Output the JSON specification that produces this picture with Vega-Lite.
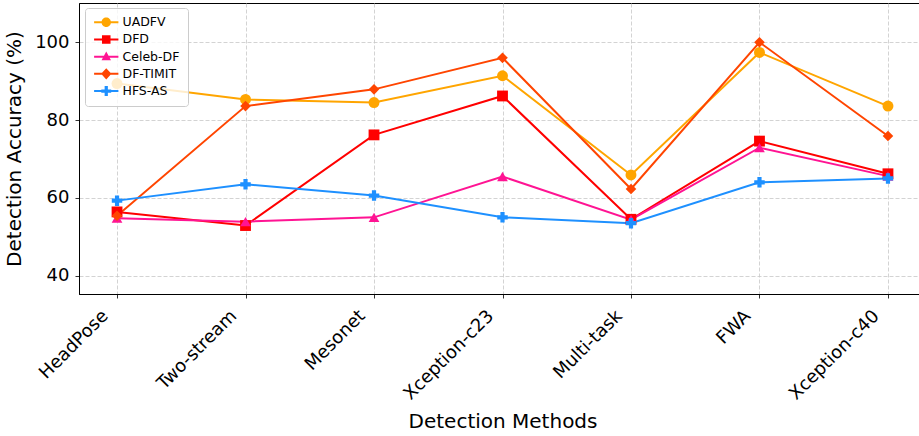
{
  "$schema": "https://vega.github.io/schema/vega-lite/v6.json",
  "width": 847,
  "height": 291,
  "autosize": {"type": "none"},
  "padding": {"left": 79, "top": 3, "right": 0, "bottom": 142},
  "background": "white",
  "config": {
    "font": "DejaVu Sans",
    "view": {"stroke": "#000000", "strokeWidth": 1},
    "axis": {
      "labelFont": "DejaVu Sans",
      "titleFont": "DejaVu Sans",
      "labelColor": "#000000",
      "titleColor": "#000000",
      "labelFontSize": 18,
      "titleFontSize": 20,
      "titleFontWeight": "normal",
      "domainColor": "#000000",
      "tickColor": "#333333",
      "tickSize": 4,
      "gridColor": "#c8c8c8",
      "gridDash": [4, 2],
      "gridWidth": 0.8
    },
    "legend": {
      "fillColor": "rgba(255,255,255,0.8)",
      "strokeColor": "#cccccc",
      "cornerRadius": 3,
      "padding": 8,
      "labelFont": "DejaVu Sans",
      "labelFontSize": 12.5,
      "labelColor": "#000000",
      "symbolSize": 81,
      "symbolStrokeWidth": 0,
      "symbolOffset": 7,
      "labelOffset": 10,
      "rowPadding": 4.2
    }
  },
  "data": {
    "values": [
      {"method": "HeadPose", "dataset": "UADFV", "acc": 89.4},
      {"method": "Two-stream", "dataset": "UADFV", "acc": 85.3},
      {"method": "Mesonet", "dataset": "UADFV", "acc": 84.5},
      {"method": "Xception-c23", "dataset": "UADFV", "acc": 91.4},
      {"method": "Multi-task", "dataset": "UADFV", "acc": 65.9},
      {"method": "FWA", "dataset": "UADFV", "acc": 97.4},
      {"method": "Xception-c40", "dataset": "UADFV", "acc": 83.6},
      {"method": "HeadPose", "dataset": "DFD", "acc": 56.4},
      {"method": "Two-stream", "dataset": "DFD", "acc": 52.9},
      {"method": "Mesonet", "dataset": "DFD", "acc": 76.2},
      {"method": "Xception-c23", "dataset": "DFD", "acc": 86.2},
      {"method": "Multi-task", "dataset": "DFD", "acc": 54.5},
      {"method": "FWA", "dataset": "DFD", "acc": 74.6},
      {"method": "Xception-c40", "dataset": "DFD", "acc": 66.2},
      {"method": "HeadPose", "dataset": "Celeb-DF", "acc": 54.8},
      {"method": "Two-stream", "dataset": "Celeb-DF", "acc": 53.9},
      {"method": "Mesonet", "dataset": "Celeb-DF", "acc": 55.0},
      {"method": "Xception-c23", "dataset": "Celeb-DF", "acc": 65.5},
      {"method": "Multi-task", "dataset": "Celeb-DF", "acc": 54.4},
      {"method": "FWA", "dataset": "Celeb-DF", "acc": 72.9},
      {"method": "Xception-c40", "dataset": "Celeb-DF", "acc": 65.6},
      {"method": "HeadPose", "dataset": "DF-TIMIT", "acc": 55.4},
      {"method": "Two-stream", "dataset": "DF-TIMIT", "acc": 83.6},
      {"method": "Mesonet", "dataset": "DF-TIMIT", "acc": 87.9},
      {"method": "Xception-c23", "dataset": "DF-TIMIT", "acc": 96.0},
      {"method": "Multi-task", "dataset": "DF-TIMIT", "acc": 62.3},
      {"method": "FWA", "dataset": "DF-TIMIT", "acc": 100.0},
      {"method": "Xception-c40", "dataset": "DF-TIMIT", "acc": 75.9},
      {"method": "HeadPose", "dataset": "HFS-AS", "acc": 59.3},
      {"method": "Two-stream", "dataset": "HFS-AS", "acc": 63.5},
      {"method": "Mesonet", "dataset": "HFS-AS", "acc": 60.6},
      {"method": "Xception-c23", "dataset": "HFS-AS", "acc": 55.0},
      {"method": "Multi-task", "dataset": "HFS-AS", "acc": 53.5},
      {"method": "FWA", "dataset": "HFS-AS", "acc": 64.0},
      {"method": "Xception-c40", "dataset": "HFS-AS", "acc": 65.0}
    ]
  },
  "encoding": {
    "x": {
      "field": "method",
      "type": "nominal",
      "sort": null,
      "scale": {"type": "point", "padding": 0.296, "domain": ["HeadPose", "Two-stream", "Mesonet", "Xception-c23", "Multi-task", "FWA", "Xception-c40"]},
      "axis": {
        "title": "Detection Methods",
        "labelAngle": -45,
        "labelAlign": "right",
        "labelBaseline": "middle",
        "labelPadding": 15,
        "labelOffset": -12,
        "titlePadding": 8,
        "grid": true
      }
    },
    "y": {
      "field": "acc",
      "type": "quantitative",
      "scale": {"domain": [35.3, 110.1], "nice": false, "zero": false},
      "axis": {
        "title": "Detection Accuracy (%)",
        "values": [40, 60, 80, 100],
        "labelPadding": 6,
        "titlePadding": 10,
        "grid": true
      }
    }
  },
  "layer": [
    {
      "mark": {"type": "line", "strokeWidth": 2},
      "encoding": {
        "color": {
          "field": "dataset",
          "type": "nominal",
          "scale": {"domain": ["UADFV", "DFD", "Celeb-DF", "DF-TIMIT", "HFS-AS"], "range": ["#FFA500", "#FF0000", "#FF1493", "#FF4500", "#1E90FF"]},
          "legend": null
        }
      }
    },
    {
      "mark": {"type": "point", "filled": true, "opacity": 1},
      "encoding": {
        "color": {
          "field": "dataset",
          "type": "nominal",
          "scale": {"domain": ["UADFV", "DFD", "Celeb-DF", "DF-TIMIT", "HFS-AS"], "range": ["#FFA500", "#FF0000", "#FF1493", "#FF4500", "#1E90FF"]},
          "legend": null
        },
        "shape": {
          "field": "dataset",
          "type": "nominal",
          "scale": {"domain": ["UADFV", "DFD", "Celeb-DF", "DF-TIMIT", "HFS-AS"], "range": ["circle", "square", "triangle-up", "diamond", "cross"]},
          "legend": null
        },
        "size": {
          "field": "dataset",
          "type": "nominal",
          "scale": {"domain": ["UADFV", "DFD", "Celeb-DF", "DF-TIMIT", "HFS-AS"], "range": [120, 110, 140, 170, 130]},
          "legend": null
        }
      }
    },
    {
      "mark": {"type": "point", "filled": true, "opacity": 0, "size": 81},
      "encoding": {
        "color": {
          "field": "dataset",
          "type": "nominal",
          "scale": {"domain": ["UADFV", "DFD", "Celeb-DF", "DF-TIMIT", "HFS-AS"], "range": ["#FFA500", "#FF0000", "#FF1493", "#FF4500", "#1E90FF"]},
          "legend": {
            "orient": "none",
            "legendX": 6,
            "legendY": 5,
            "title": null,
            "labelFontSize": 12.5,
            "encode": {"symbols": {"update": {"opacity": {"value": 1}, "fillOpacity": {"value": 1}}}}
          }
        },
        "shape": {
          "field": "dataset",
          "type": "nominal",
          "scale": {
            "domain": ["UADFV", "DFD", "Celeb-DF", "DF-TIMIT", "HFS-AS"],
            "range": [
              "M-2.7,-0.22H2.7V0.22H-2.7Z M-1.05,0A1.05,1.05 0 1,1 1.05,0A1.05,1.05 0 1,1 -1.05,0Z",
              "M-2.7,-0.22H2.7V0.22H-2.7Z M-0.95,-0.95H0.95V0.95H-0.95Z",
              "M-2.7,-0.22H2.7V0.22H-2.7Z M0,-1.15L1.05,0.8H-1.05Z",
              "M-2.7,-0.22H2.7V0.22H-2.7Z M0,-1.25L1.15,0L0,1.25L-1.15,0Z",
              "M-2.7,-0.22H2.7V0.22H-2.7Z M-0.36,-1.1H0.36V-0.36H1.1V0.36H0.36V1.1H-0.36V0.36H-1.1V-0.36H-0.36Z"
            ]
          },
          "legend": {
            "orient": "none",
            "legendX": 6,
            "legendY": 5,
            "title": null,
            "labelFontSize": 12.5
          }
        }
      }
    }
  ],
  "resolve": {"scale": {"color": "independent", "shape": "independent"}}
}
